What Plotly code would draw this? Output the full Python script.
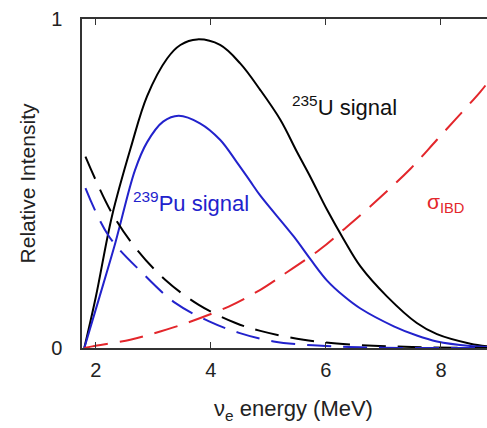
import plotly.graph_objects as go

# Data (energy in MeV, relative intensity)
u235_x = [1.80, 2.00, 2.28, 2.61, 2.89, 3.24, 3.47, 3.76, 4.16, 4.51, 4.86, 5.21, 5.50, 5.73, 6.02, 6.31, 6.60, 7.06, 7.58, 7.93, 8.51, 8.80]
u235_y = [0.00, 0.155, 0.400, 0.610, 0.765, 0.880, 0.921, 0.938, 0.921, 0.865, 0.784, 0.693, 0.595, 0.520, 0.420, 0.330, 0.248, 0.157, 0.076, 0.042, 0.013, 0.005]

pu239_x = [1.80, 2.05, 2.34, 2.68, 2.89, 3.17, 3.44, 3.81, 4.16, 4.45, 4.68, 4.86, 5.44, 5.73, 6.02, 6.31, 6.60, 7.18, 7.58, 7.93, 8.51, 8.80]
pu239_y = [0.00, 0.147, 0.320, 0.540, 0.625, 0.688, 0.706, 0.683, 0.633, 0.565, 0.508, 0.463, 0.339, 0.270, 0.205, 0.158, 0.120, 0.066, 0.038, 0.020, 0.006, 0.003]

u235_ibd_x = [1.82, 2.28, 2.72, 3.21, 3.79, 4.43, 4.86, 5.61, 6.50, 7.50, 8.80]
u235_ibd_y = [0.582, 0.410, 0.298, 0.207, 0.131, 0.076, 0.052, 0.025, 0.010, 0.003, 0.000]

pu239_ibd_x = [1.82, 2.23, 2.81, 3.38, 3.97, 4.49, 5.09, 6.00, 7.00, 8.80]
pu239_ibd_y = [0.486, 0.339, 0.228, 0.137, 0.081, 0.046, 0.020, 0.006, 0.001, 0.000]

sigma_x = [1.80, 1.94, 2.60, 2.92, 3.48, 4.31, 4.86, 5.21, 5.90, 6.31, 6.77, 7.47, 7.93, 8.68, 8.80]
sigma_y = [0.000, 0.005, 0.025, 0.040, 0.070, 0.126, 0.177, 0.217, 0.300, 0.360, 0.430, 0.545, 0.633, 0.778, 0.804]

x_ticks = [2, 4, 6, 8]
y_ticks = [0, 1]

BLACK = "#000000"
BLUE = "#2222cc"
RED = "#e3262b"
DASH = "24px,12px"

fig = go.Figure()
fig.add_trace(go.Scatter(x=u235_x, y=u235_y, mode="lines",
                         line=dict(color=BLACK, width=2, shape="spline", smoothing=1.0)))
fig.add_trace(go.Scatter(x=pu239_x, y=pu239_y, mode="lines",
                         line=dict(color=BLUE, width=2, shape="spline", smoothing=1.0)))
fig.add_trace(go.Scatter(x=u235_ibd_x, y=u235_ibd_y, mode="lines",
                         line=dict(color=BLACK, width=2, dash=DASH, shape="spline", smoothing=1.0)))
fig.add_trace(go.Scatter(x=pu239_ibd_x, y=pu239_ibd_y, mode="lines",
                         line=dict(color=BLUE, width=2, dash=DASH, shape="spline", smoothing=1.0)))
fig.add_trace(go.Scatter(x=sigma_x, y=sigma_y, mode="lines",
                         line=dict(color=RED, width=2, dash=DASH, shape="spline", smoothing=1.0)))

FONT = "Liberation Sans, Arial, sans-serif"

fig.update_layout(
    width=487, height=428,
    margin=dict(l=82, r=0, t=19, b=80),
    paper_bgcolor="white", plot_bgcolor="white",
    showlegend=False,
    font=dict(family=FONT, size=20, color="#222222"),
    xaxis=dict(range=[1.76, 8.8], tickvals=x_ticks, ticks="inside", ticklen=6,
               tickcolor="#333", showline=True, linecolor="#333", linewidth=1.5,
               mirror="ticks", showgrid=False, zeroline=False,
               ticklabelstandoff=3),
    yaxis=dict(range=[0, 1], tickvals=y_ticks, ticks="", showline=True,
               linecolor="#333", linewidth=1.5, showgrid=False, zeroline=False,
               ticklabelstandoff=14,
               title=dict(text="Relative Intensity", standoff=10,
                          font=dict(size=21, color="#222222"))),
    annotations=[
        dict(x=0.522, y=-0.187, xref="paper", yref="paper", showarrow=False,
             xanchor="center", yanchor="middle",
             text="ν<sub>e</sub> energy (MeV)", font=dict(size=22, color="#222222")),
        dict(x=6.32, y=0.735, xref="x", yref="y", showarrow=False,
             text="<sup>235</sup>U signal", font=dict(size=22, color="#111111")),
        dict(x=3.66, y=0.445, xref="x", yref="y", showarrow=False,
             text="<sup>239</sup>Pu signal", font=dict(size=22, color=BLUE)),
        dict(x=8.07, y=0.44, xref="x", yref="y", showarrow=False,
             text="σ<sub>IBD</sub>", font=dict(size=21, color=RED)),
    ],
)

fig.write_html("out.html")
